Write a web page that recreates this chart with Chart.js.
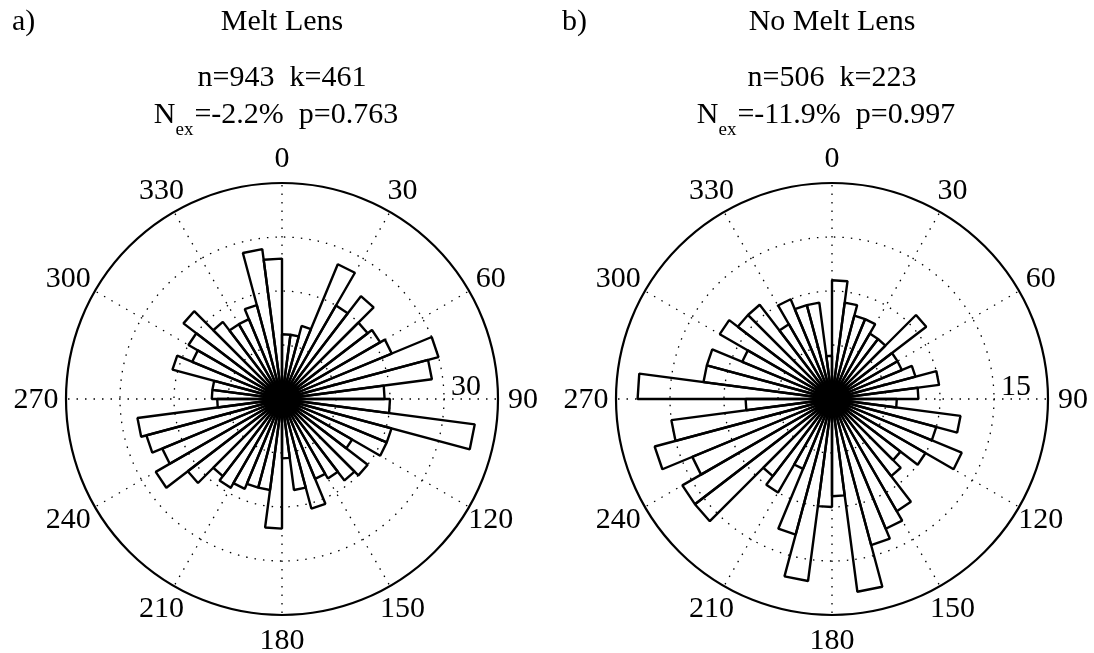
<!DOCTYPE html>
<html>
<head>
<meta charset="utf-8">
<script src="https://cdn.jsdelivr.net/npm/chart.js@4.4.1/dist/chart.umd.min.js"></script>
<style>
  body { margin: 0; background: #fff; }
  #wrap { position: relative; width: 1094px; height: 653px; overflow: hidden;
          font-family: 'Liberation Serif', 'Times New Roman', serif; color: #000; }
  canvas { position: absolute; top: 0; }
  .t { position: absolute; font-size: 30px; line-height: 30px; white-space: pre; }
  .mid { transform: translateX(-50%); }
  .sub { font-size: 19px; position: relative; top: 12px; padding-right: 1px; }
</style>
</head>
<body>
<div id="wrap">
  <canvas id="roseA" width="547" height="653" style="left:0"></canvas>
  <canvas id="roseB" width="547" height="653" style="left:547px"></canvas>

  <div class="t" style="left:12px; top:5px">a)</div>
  <div class="t mid" style="left:282px; top:5px">Melt Lens</div>
  <div class="t mid" style="left:282px; top:61px">n=943  k=461</div>
  <div class="t mid" style="left:276px; top:98px">N<span class="sub">ex</span>=-2.2%  p=0.763</div>

  <div class="t" style="left:562px; top:5px">b)</div>
  <div class="t mid" style="left:832px; top:5px">No Melt Lens</div>
  <div class="t mid" style="left:832px; top:61px">n=506  k=223</div>
  <div class="t mid" style="left:826px; top:98px">N<span class="sub">ex</span>=-11.9%  p=0.997</div>
</div>

<script>
// 7.5 degree bins, clockwise from north
var binStarts = ['0', '7.5', '15', '22.5', '30', '37.5', '45', '52.5', '60', '67.5', '75', '82.5',
                 '90', '97.5', '105', '112.5', '120', '127.5', '135', '142.5', '150', '157.5', '165', '172.5',
                 '180', '187.5', '195', '202.5', '210', '217.5', '225', '232.5', '240', '247.5', '255', '262.5',
                 '270', '277.5', '285', '292.5', '300', '307.5', '315', '322.5', '330', '337.5', '345', '352.5'];

var meltLens = [12, 12, 14, 27, 20, 24, 20, 21, 22, 30, 28, 19,
                20, 36, 21, 21, 15, 20, 19, 17, 16, 21, 17, 11,
                24, 17, 17, 18, 19, 18, 22, 27, 24, 26, 27, 12,
                13, 13, 21, 18, 20, 23, 18, 16, 16, 18, 28, 26];

var noMeltLens = [11, 9, 8, 8, 7, 7, 11, 7, 7, 8, 10, 8,
                  6, 12, 10, 13, 10, 8, 9, 12, 13, 14, 18, 9,
                  10, 17, 13, 7, 10, 9, 16, 16, 14, 17, 15, 8,
                  18, 12, 12, 9, 12, 11, 11, 8, 10, 9, 9, 4];

var angleTicks = ['0', '30', '60', '90', '120', '150', '180', '210', '240', '270', '300', '330'];

var roseLabels = {
  id: 'roseLabels',
  afterDraw: function(chart, args, opts) {
    var r = chart.scales.r;
    var ctx = chart.ctx;
    ctx.save();
    ctx.font = '30px "Liberation Serif"';
    ctx.fillStyle = '#000';
    ctx.textAlign = 'center';
    ctx.textBaseline = 'middle';
    angleTicks.forEach(function(t, k) {
      var p = r.getPointPosition(k * 4, r.drawingArea + 25);
      // 240 / 270 / 300 sit a little further out
      var dx = p.x < r.xCenter - 150 ? -5 : 0;
      ctx.fillText(t, p.x + dx, p.y + 1);
    });
    // single ring label beside the 90 spoke
    var d = r.getDistanceFromCenterForValue(opts.ring);
    ctx.textAlign = 'left';
    ctx.textBaseline = 'alphabetic';
    ctx.fillText(String(opts.ring), r.xCenter + d + 7, r.yCenter - 4);
    ctx.restore();
  }
};

function makeRose(id, values, maxR, step, pad) {
  return new Chart(document.getElementById(id), {
    type: 'polarArea',
    data: {
      labels: binStarts,
      datasets: [{
        data: values,
        backgroundColor: 'rgba(0,0,0,0)',
        borderColor: '#000',
        borderWidth: 2.4,
        circular: false
      }]
    },
    options: {
      responsive: false,
      animation: false,
      layout: { padding: pad },
      plugins: {
        legend: { display: false },
        tooltip: { enabled: false },
        roseLabels: { ring: maxR - step }
      },
      scales: {
        r: {
          min: 0,
          max: maxR,
          ticks: { display: false, stepSize: step },
          grid: {
            circular: true,
            color: '#000',
            lineWidth: function(c) { return c.tick.value === maxR ? 2.2 : 1.3; }
          },
          border: {
            dash: function(c) { return c.tick.value === maxR ? [] : [1.5, 7]; }
          },
          angleLines: {
            display: true,
            color: '#000',
            lineWidth: function(c) { return c.index % 4 === 0 ? 1.3 : 0; },
            borderDash: [1.5, 7]
          },
          pointLabels: { display: false }
        }
      }
    },
    plugins: [roseLabels]
  });
}

makeRose('roseA', meltLens, 40, 10, { left: 66, right: 49, top: 183, bottom: 38 });
makeRose('roseB', noMeltLens, 20, 5, { left: 69, right: 46, top: 183, bottom: 38 });
</script>
</body>
</html>
